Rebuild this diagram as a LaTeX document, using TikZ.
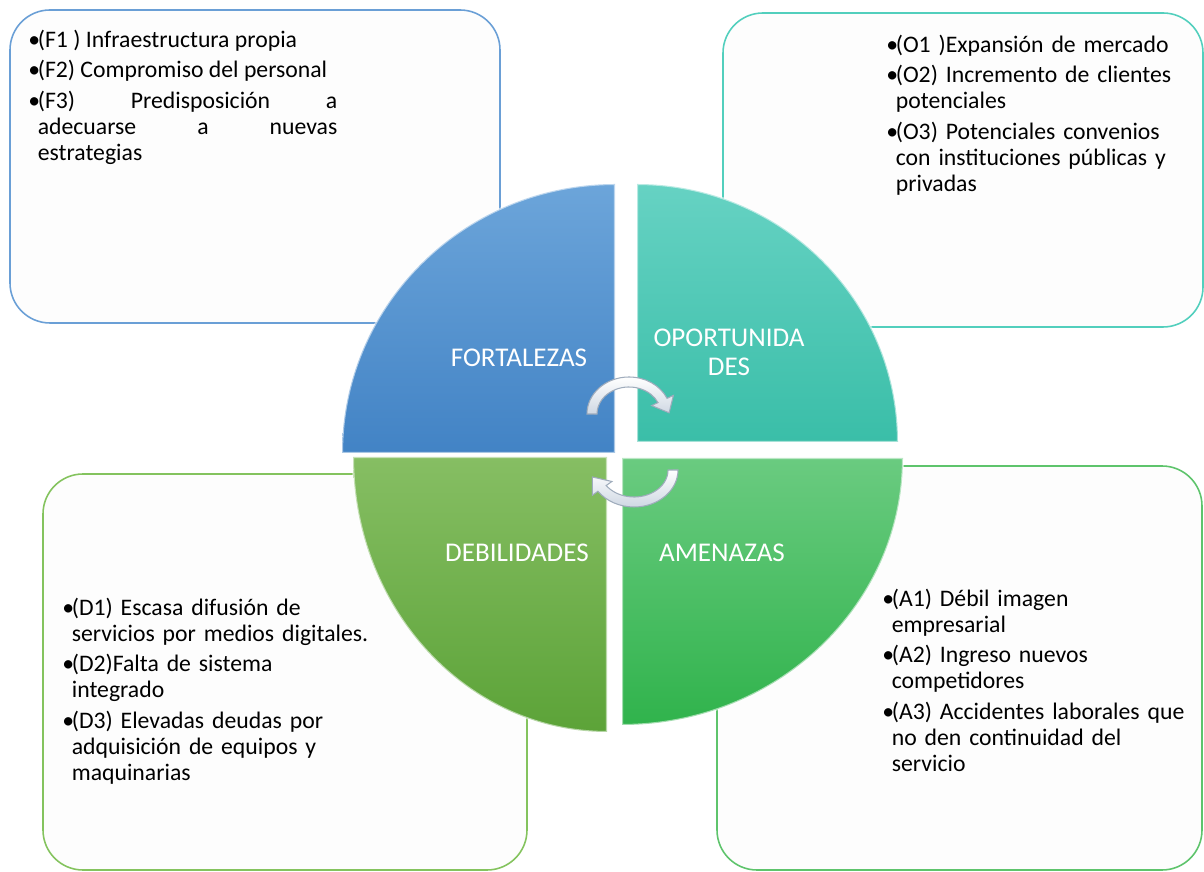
\documentclass[tikz,border=0pt]{standalone}
\usepackage{fontspec}
\setmainfont{Carlito}
\usetikzlibrary{calc}
\definecolor{paper}{HTML}{FDFDFD}
\definecolor{bordF}{HTML}{6A9FD6}
\definecolor{bordO}{HTML}{52CFBD}
\definecolor{bordD}{HTML}{84C35E}
\definecolor{bordA}{HTML}{5EC46C}
\definecolor{fTop}{HTML}{6CA5DA}
\definecolor{fBot}{HTML}{4283C5}
\definecolor{oTop}{HTML}{66D2C3}
\definecolor{oBot}{HTML}{3ABEA8}
\definecolor{dTop}{HTML}{86BE63}
\definecolor{dBot}{HTML}{5CA338}
\definecolor{aTop}{HTML}{6ACB80}
\definecolor{aBot}{HTML}{30B34C}
\definecolor{arrlo}{HTML}{CFD8E3}
\definecolor{arredge}{HTML}{9FACBC}
\newcommand{\itm}{\par\hangindent=5.4pt\hangafter=1\noindent\makebox[5.4pt][l]{\textbullet}\strut}
\tikzset{
  box/.style={draw=#1, line width=0.9pt, fill=paper, rounded corners=0.8cm},
  quad/.style 2 args={top color=#1, bottom color=#2, draw=white, draw opacity=0.55, line width=1.2pt},
  lbl/.style={text=white, font=\fontsize{15.4}{16.4}\selectfont, align=center, inner sep=0pt},
  lst/.style={anchor=north west, inner sep=0pt, text width=#1, font=\fontsize{13.5}{14.74}\selectfont},
  cyc/.style={top color=white, bottom color=arrlo, draw=arredge, line width=0.6pt},
}
\begin{document}
\begin{tikzpicture}[x=0.02cm, y=0.02cm]
 \useasboundingbox (0,0) rectangle (1204,872);
 % text boxes
 \draw[box=bordF] (10,549) rectangle (500,862);
 \draw[box=bordO] (723,545) rectangle (1203,859);
 \draw[box=bordD] (43,2) rectangle (527,398);
 \draw[box=bordA] (717,2) rectangle (1202,406);
 \node[lst=6.18cm, align=justify] (listF) at (28,856) {\setlength{\parskip}{2.8pt}%
  \itm (F1 ) Infraestructura propia
  \itm (F2) Compromiso del personal
  \itm (F3) Predisposición a\linebreak adecuarse a nuevas\linebreak estrategias\par};
 \node[lst=6.4cm, align=left] (listO) at (886,851) {\setlength{\parskip}{2.8pt}%
  \itm (O1 )Expansión de mercado
  \itm (O2) Incremento de clientes\newline potenciales
  \itm (O3) Potenciales convenios\newline con instituciones públicas y\newline privadas\par};
 \node[lst=6.4cm, align=left] (listD) at (62,288) {\setlength{\parskip}{2.8pt}%
  \itm (D1) Escasa difusión de\newline servicios por medios digitales.
  \itm (D2)Falta de sistema\newline integrado
  \itm (D3) Elevadas deudas por\newline adquisición de equipos y\newline maquinarias\par};
 \node[lst=6.4cm, align=left] (listA) at (882,297) {\setlength{\parskip}{2.8pt}%
  \itm (A1) Débil imagen\newline empresarial
  \itm (A2) Ingreso nuevos\newline competidores
  \itm (A3) Accidentes laborales que\newline no den continuidad del\newline servicio\par};
 % quadrants
 \path[quad={fTop}{fBot}] (615,419) -- (342,419) arc[start angle=180, end angle=90, x radius=273, y radius=269] -- cycle;
 \path[quad={oTop}{oBot}] (637,430) -- (898,430) arc[start angle=0, end angle=90, x radius=261, y radius=258] -- cycle;
 \path[quad={dTop}{dBot}] (607,415) -- (353,415) arc[start angle=180, end angle=270, x radius=254, y radius=275] -- cycle;
 \path[quad={aTop}{aBot}] (622,414) -- (903,414) arc[start angle=0, end angle=-90, x radius=281, y radius=267] -- cycle;
 \node[lbl] (fort) at (519,514) {FORTALEZAS};
 \node[lbl] (oport) at (729,519.5) {OPORTUNIDA\\DES};
 \node[lbl] (debil) at (517,319) {DEBILIDADES};
 \node[lbl] (amen) at (722,319) {AMENAZAS};
 % cycle arrows
 \begin{scope}[shift={(629,458)}]
  \path[cyc] (-42,0) arc[start angle=180, end angle=25, x radius=42, y radius=37]
   -- (44.4,18.6) -- (40.1,1.2) -- (22.6,8.4) -- (29.0,11.4)
   arc[start angle=25, end angle=180, x radius=32, y radius=27] -- cycle;
 \end{scope}
 \begin{scope}[shift={(634,402)}]
  \path[cyc] (44,0) arc[start angle=0, end angle=-145, x radius=44, y radius=37]
   -- (-41.7,-25.3) -- (-41.7,-7.0) -- (-22.1,-11.5) -- (-27.8,-15.5)
   arc[start angle=-145, end angle=0, x radius=34, y radius=27] -- cycle;
 \end{scope}
\end{tikzpicture}
\end{document}
